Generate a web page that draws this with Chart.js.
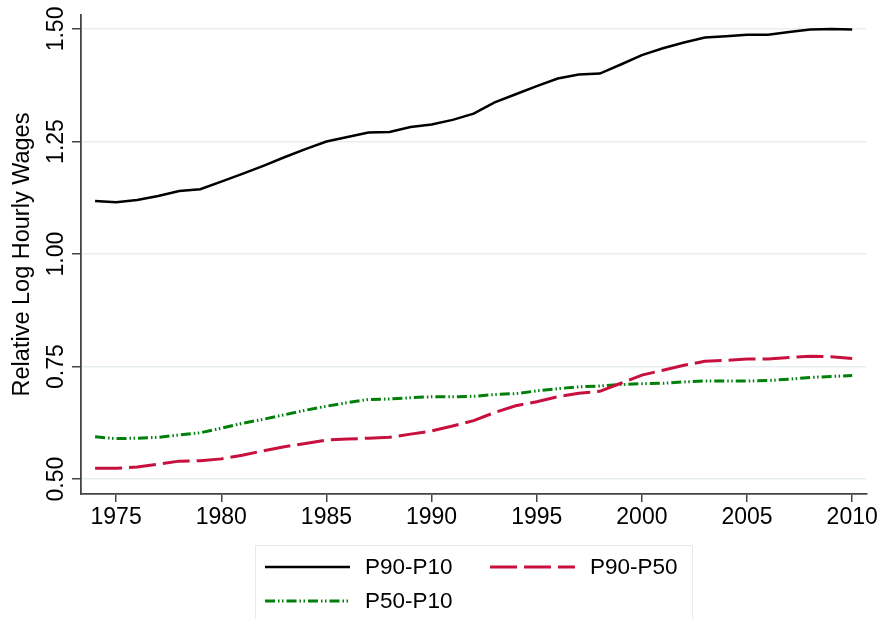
<!DOCTYPE html>
<html>
<head>
<meta charset="utf-8">
<script src="https://cdn.jsdelivr.net/npm/chart.js@4.4.1/dist/chart.umd.min.js"></script>
<style>
  html, body { margin: 0; padding: 0; background: #fff; }
  #wrap { position: relative; width: 880px; height: 619px; overflow: hidden; }
  #legend {
    position: absolute; left: 255px; top: 545px; width: 438px; height: 100px;
    border: 1.5px solid #e3ebee; box-sizing: border-box;
    font-family: "Liberation Sans", Arial, sans-serif; font-size: 22.5px; color: #000;
  }
  .item { position: absolute; display: flex; align-items: center; height: 30px; }
  .item svg { margin-right: 15px; }
</style>
</head>
<body>
<div id="wrap">
  <canvas id="chart" width="880" height="619"></canvas>
  <div id="legend">
    <div class="item" style="left:9px;top:6px">
      <svg width="85" height="10"><line x1="0" y1="5" x2="85" y2="5" stroke="#000" stroke-width="2.5"/></svg>P90-P10
    </div>
    <div class="item" style="left:234px;top:6px">
      <svg width="85" height="10"><line x1="0" y1="5" x2="85" y2="5" stroke="#c8103e" stroke-width="3" stroke-dasharray="27 7"/></svg>P90-P50
    </div>
    <div class="item" style="left:9px;top:40px">
      <svg width="85" height="10"><line x1="0" y1="5" x2="85" y2="5" stroke="#00800a" stroke-width="3" stroke-dasharray="10 3 1.5 2.5 1.5 3"/></svg>P50-P10
    </div>
  </div>
</div>
<script>
const years = [1974, 1975, 1976, 1977, 1978, 1979, 1980, 1981, 1982, 1983, 1984, 1985,
  1986, 1987, 1988, 1989, 1990, 1991, 1992, 1993, 1994, 1995, 1996, 1997, 1998, 1999,
  2000, 2001, 2002, 2003, 2004, 2005, 2006, 2007, 2008, 2009, 2010];

const p90p10 = [1.118, 1.115, 1.120, 1.129, 1.140, 1.144, 1.161, 1.178, 1.196, 1.215, 1.233, 1.250,
  1.260, 1.270, 1.271, 1.282, 1.288, 1.298, 1.312, 1.337, 1.355, 1.373, 1.390, 1.399, 1.401, 1.421,
  1.442, 1.457, 1.470, 1.481, 1.484, 1.487, 1.487, 1.493, 1.499, 1.500, 1.499];

const p90p50 = [0.524, 0.524, 0.527, 0.533, 0.540, 0.541, 0.545, 0.553, 0.563, 0.572, 0.579, 0.587,
  0.589, 0.591, 0.593, 0.600, 0.607, 0.618, 0.630, 0.648, 0.663, 0.672, 0.683, 0.691, 0.695, 0.713,
  0.731, 0.742, 0.753, 0.762, 0.764, 0.767, 0.767, 0.770, 0.773, 0.772, 0.768];

const p50p10 = [0.594, 0.590, 0.591, 0.593, 0.598, 0.603, 0.613, 0.624, 0.633, 0.643, 0.653, 0.662,
  0.670, 0.677, 0.678, 0.681, 0.683, 0.683, 0.684, 0.688, 0.690, 0.696, 0.701, 0.705, 0.707, 0.710,
  0.712, 0.713, 0.716, 0.718, 0.718, 0.718, 0.719, 0.722, 0.726, 0.728, 0.730];

const yTicks = [0.50, 0.75, 1.00, 1.25, 1.50];
const yTickLabels = ["0.50", "0.75", "1.00", "1.25", "1.50"];
const yTitle = "Relative Log Hourly Wages";

const FONT = '"Liberation Sans", Arial, sans-serif';
const AXIS = "#444";

function toPoints(values) {
  return years.map((yr, i) => ({ x: yr, y: values[i] }));
}

// y tick labels are rotated like the original, drawn at the scale's own pixels
const yLabelPlugin = {
  id: "yLabels",
  afterDraw(chart) {
    const { ctx, chartArea } = chart;
    const y = chart.scales.y;
    ctx.save();
    ctx.fillStyle = "#000";
    ctx.font = "23px " + FONT;
    ctx.textAlign = "center";
    ctx.textBaseline = "alphabetic";
    yTicks.forEach((v, i) => {
      ctx.save();
      ctx.translate(63, y.getPixelForValue(v));
      ctx.rotate(-Math.PI / 2);
      ctx.fillText(yTickLabels[i], 0, 0);
      ctx.restore();
    });
    ctx.font = "23.5px " + FONT;
    ctx.translate(29, (chartArea.top + chartArea.bottom) / 2);
    ctx.rotate(-Math.PI / 2);
    ctx.fillText(yTitle, 0, 0);
    ctx.restore();
  }
};

new Chart(document.getElementById("chart"), {
  type: "line",
  data: {
    datasets: [
      {
        label: "P90-P10",
        data: toPoints(p90p10),
        borderColor: "#000",
        borderWidth: 2.5
      },
      {
        label: "P90-P50",
        data: toPoints(p90p50),
        borderColor: "#c8103e",
        borderWidth: 3,
        borderDash: [27, 7]
      },
      {
        label: "P50-P10",
        data: toPoints(p50p10),
        borderColor: "#00800a",
        borderWidth: 3,
        borderDash: [10, 3, 1.5, 2.5, 1.5, 3]
      }
    ]
  },
  options: {
    responsive: false,
    animation: false,
    layout: { padding: { left: 0, right: 13, top: 15, bottom: 85 } },
    elements: {
      point: { radius: 0 },
      line: { tension: 0, fill: false, borderCapStyle: "butt" }
    },
    plugins: {
      legend: { display: false },
      tooltip: { enabled: false }
    },
    scales: {
      x: {
        type: "linear",
        min: 1973.33,
        max: 2010.67,
        afterFit(scale) { scale.height = 40; },
        border: { color: AXIS, width: 1.8 },
        grid: { drawOnChartArea: false, color: AXIS, tickLength: 8, lineWidth: 1.5 },
        ticks: {
          stepSize: 5,
          includeBounds: false,
          padding: 2,
          color: "#000",
          font: { family: FONT, size: 23 },
          maxRotation: 0,
          callback: v => String(v)
        }
      },
      y: {
        min: 0.467,
        max: 1.531,
        afterFit(scale) { scale.width = 81; },
        border: { color: AXIS, width: 1.8 },
        grid: { color: "#e8eff2", tickColor: AXIS, tickLength: 9, lineWidth: 1.5 },
        ticks: { stepSize: 0.25, includeBounds: false, display: false }
      }
    }
  },
  plugins: [yLabelPlugin]
});
</script>
</body>
</html>
